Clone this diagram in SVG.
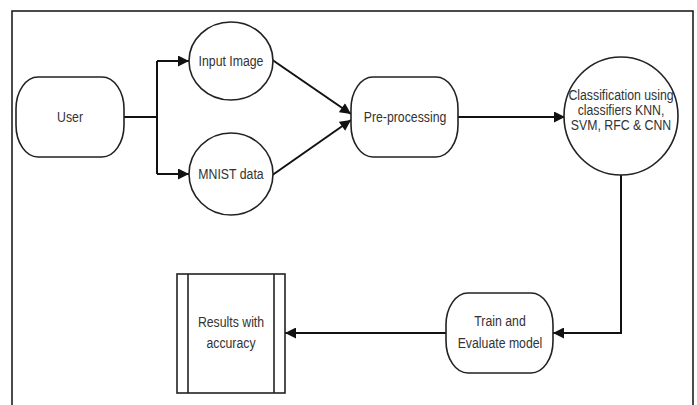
<svg xmlns="http://www.w3.org/2000/svg" width="697" height="405" viewBox="0 0 697 405">
<style>
.n{fill:#fff;stroke:#222;stroke-width:1.6}
.c{fill:none;stroke:#111;stroke-width:2}
text{font-family:"Liberation Sans",Arial,sans-serif;font-size:15px;fill:#333;text-anchor:middle}
</style>
<defs>
<marker id="a" viewBox="0 0 10 10" refX="10" refY="5" markerWidth="6" markerHeight="5.5" orient="auto" markerUnits="strokeWidth">
<path d="M0,0L10,5L0,10z" fill="#111"/>
</marker>
</defs>
<rect x="12" y="11" width="681" height="400" fill="#fff" stroke="#111" stroke-width="1.5"/>
<g id="connectors">
<path class="c" d="M124,117H157"/>
<path class="c" d="M157,61V174"/>
<path class="c" d="M157,61H189" marker-end="url(#a)"/>
<path class="c" d="M157,174H189" marker-end="url(#a)"/>
<path class="c" d="M271,59L351,114" marker-end="url(#a)"/>
<path class="c" d="M271,176L351,120" marker-end="url(#a)"/>
<path class="c" d="M458,117H565" marker-end="url(#a)"/>
<path class="c" d="M621,175V333H553" marker-end="url(#a)"/>
<path class="c" d="M446,333H285" marker-end="url(#a)"/>
</g>
<g id="user">
<rect class="n" x="16" y="77" width="108" height="80" rx="22" ry="32"/>
<text transform="matrix(0.82 0 0 1 70 122)">User</text>
</g>
<g id="input-image">
<ellipse class="n" cx="231" cy="61" rx="42" ry="39"/>
<text transform="matrix(0.82 0 0 1 231 66)">Input Image</text>
</g>
<g id="mnist">
<ellipse class="n" cx="231" cy="174" rx="42" ry="41"/>
<text transform="matrix(0.82 0 0 1 231 179)">MNIST data</text>
</g>
<g id="preprocessing">
<rect class="n" x="351" y="77" width="107" height="80" rx="22" ry="32"/>
<text transform="matrix(0.82 0 0 1 405 122)">Pre-processing</text>
</g>
<g id="classification">
<ellipse class="n" cx="621" cy="116" rx="57" ry="59"/>
<text transform="matrix(0.82 0 0 1 621 100)">Classification using</text>
<text transform="matrix(0.82 0 0 1 621 115)">classifiers KNN,</text>
<text transform="matrix(0.82 0 0 1 621 130)">SVM, RFC &amp; CNN</text>
</g>
<g id="train">
<rect class="n" x="446" y="293" width="107" height="80" rx="22" ry="32"/>
<text transform="matrix(0.82 0 0 1 500 326)">Train and</text>
<text transform="matrix(0.82 0 0 1 500 348)">Evaluate model</text>
</g>
<g id="results">
<rect class="n" x="177" y="274" width="108" height="119"/>
<path class="n" d="M188,274V393M274,274V393"/>
<text transform="matrix(0.82 0 0 1 231 327)">Results with</text>
<text transform="matrix(0.82 0 0 1 231 348)">accuracy</text>
</g>
</svg>
